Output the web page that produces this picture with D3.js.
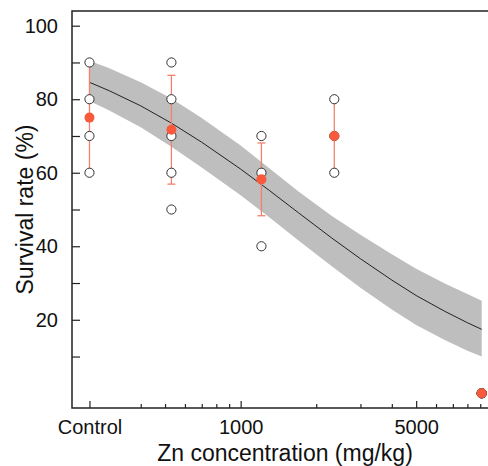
<!DOCTYPE html>
<html>
<head>
<meta charset="utf-8">
<script src="https://cdn.jsdelivr.net/npm/d3@7"></script>
<style>
  body { margin: 0; background: #fff; }
  svg { display: block; font-family: "Liberation Sans", Arial, sans-serif; }
</style>
</head>
<body>
<svg id="chart" width="488" height="466"></svg>
<script>
// fitted curve (concentration in mg/kg, survival %)
const curveConc  = [250, 300, 400, 530, 700, 1000, 1300, 1700, 2300, 3000, 4000, 5000, 6500, 8000, 9120];
const curveFit   = [84.6, 82.3, 78.2, 73.5, 68.3, 61.0, 55.2, 49.1, 42.3, 36.6, 30.8, 26.6, 22.3, 19.2, 17.4];
const curveUpper = [90.5, 88.4, 84.6, 80.2, 74.9, 67.4, 61.2, 54.9, 48.3, 43.1, 37.8, 33.9, 29.9, 27.0, 25.2];
const curveLower = [79.5, 76.9, 72.4, 67.1, 61.4, 53.9, 47.9, 41.6, 34.6, 28.7, 22.8, 18.6, 14.5, 11.6, 10.0];

// treatment groups (control is drawn at the 250 position)
const groupConc = [250, 530, 1210, 2360, 9120];
const groupObs = [
    [90, 80, 70, 60],
    [90, 80, 70, 60, 50],
    [70, 60, 40],
    [80, 70, 60],
    [0, 0, 0, 0]
];
const groupMean = [75, 71.7, 58.2, 70, 0];
const groupSd   = [15, 14.8, 9.9, 10, 0];

const xMajor = [250, 1000, 5000];
const xMajorLabels = ["Control", "1000", "5000"];
const xMinor = [400, 500, 600, 700, 800, 900, 2000, 3000, 4000, 6000, 7000, 8000, 9000];
const yTicks = [10, 20, 30, 40, 50, 60, 70, 80, 90, 100];
const yLabelTicks = [20, 40, 60, 80, 100];

const margin = {left: 72, top: 11, right: 498, bottom: 408};

const svg = d3.select("#chart");

const x = d3.scaleLog()
    .domain([213, 10590])
    .range([margin.left, margin.right]);

const y = d3.scaleLinear()
    .domain([-4, 104])
    .range([margin.bottom, margin.top]);

const curve = curveConc.map((c, i) => ({
    c: c, fit: curveFit[i], lo: curveLower[i], hi: curveUpper[i]
}));

// confidence band
svg.append("path")
    .datum(curve)
    .attr("fill", "#bebebe")
    .attr("d", d3.area()
        .x(d => x(d.c))
        .y0(d => y(d.lo))
        .y1(d => y(d.hi)));

// fitted line
svg.append("path")
    .datum(curve)
    .attr("fill", "none")
    .attr("stroke", "#222")
    .attr("stroke-width", 1)
    .attr("d", d3.line()
        .x(d => x(d.c))
        .y(d => y(d.fit)));

// error bars
const groups = groupConc.map((c, i) => ({
    c: c, mean: groupMean[i], sd: groupSd[i], obs: groupObs[i]
})).filter(d => d);

const bars = svg.append("g")
    .attr("stroke", "#f2826c")
    .attr("stroke-width", 1.3);

groups.filter(d => d.sd > 0).forEach(d => {
    const cx = x(d.c);
    bars.append("line")
        .attr("x1", cx).attr("x2", cx)
        .attr("y1", y(d.mean - d.sd)).attr("y2", y(d.mean + d.sd));
    [d.mean - d.sd, d.mean + d.sd].forEach(v => {
        bars.append("line")
            .attr("x1", cx - 4).attr("x2", cx + 4)
            .attr("y1", y(v)).attr("y2", y(v));
    });
});

// raw observations
const points = [];
groups.forEach(d => d.obs.forEach(v => points.push({c: d.c, v: v})));

svg.append("g")
    .selectAll("circle")
    .data(points)
    .enter()
    .append("circle")
    .attr("cx", d => x(d.c))
    .attr("cy", d => y(d.v))
    .attr("r", 4.6)
    .attr("fill", "#fff")
    .attr("stroke", "#333")
    .attr("stroke-width", 1);

// group means
svg.append("g")
    .selectAll("circle")
    .data(groups)
    .enter()
    .append("circle")
    .attr("cx", d => x(d.c))
    .attr("cy", d => y(d.mean))
    .attr("r", 5)
    .attr("fill", "#fa5a3c");

// axes (ticks point inward)
const xAxis = svg.append("g")
    .attr("transform", `translate(0,${margin.bottom})`)
    .call(d3.axisBottom(x)
        .tickValues(xMajor)
        .tickFormat((d, i) => xMajorLabels[i])
        .tickSizeInner(-7)
        .tickSizeOuter(0)
        .tickPadding(12));

svg.append("g")
    .attr("transform", `translate(0,${margin.bottom})`)
    .call(d3.axisBottom(x)
        .tickValues(xMinor)
        .tickFormat("")
        .tickSizeInner(-4)
        .tickSizeOuter(0));

const yAxis = svg.append("g")
    .attr("transform", `translate(${margin.left},0)`)
    .call(d3.axisLeft(y)
        .tickValues(yTicks)
        .tickFormat(d => yLabelTicks.includes(d) ? d : "")
        .tickSizeInner(-8)
        .tickSizeOuter(0)
        .tickPadding(14));

svg.selectAll(".domain").remove();
svg.selectAll(".tick line").attr("stroke", "#222").attr("stroke-width", 1.2);
svg.selectAll(".tick text")
    .attr("font-family", "'Liberation Sans', Arial, sans-serif")
    .attr("font-size", 20)
    .attr("fill", "#111");

// plot box
svg.append("rect")
    .attr("x", margin.left)
    .attr("y", margin.top)
    .attr("width", margin.right - margin.left)
    .attr("height", margin.bottom - margin.top)
    .attr("fill", "none")
    .attr("stroke", "#222")
    .attr("stroke-width", 1.5);

// axis titles
svg.append("text")
    .attr("x", (margin.left + margin.right) / 2)
    .attr("y", 461)
    .attr("text-anchor", "middle")
    .attr("font-size", 23)
    .attr("fill", "#111")
    .text("Zn concentration (mg/kg)");

svg.append("text")
    .attr("transform", `translate(33,${(margin.top + margin.bottom) / 2}) rotate(-90)`)
    .attr("text-anchor", "middle")
    .attr("font-size", 23)
    .attr("fill", "#111")
    .text("Survival rate (%)");
</script>
</body>
</html>
